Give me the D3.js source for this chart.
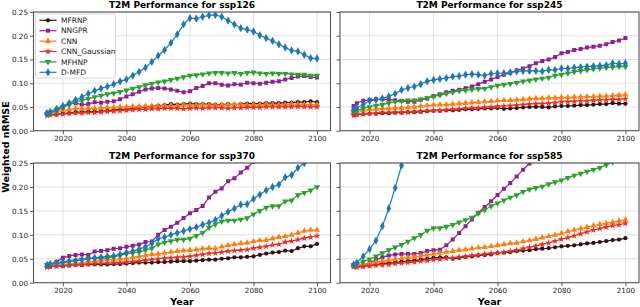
<!DOCTYPE html>
<html>
<head>
<meta charset="utf-8">
<script src="https://cdn.jsdelivr.net/npm/d3@7"></script>
<style>
  body { margin: 0; background: #fff; }
  svg { display: block; font-family: "DejaVu Sans", sans-serif; }
</style>
</head>
<body>
<svg id="chart" width="640" height="307"></svg>
<script>
// x values (one point every two years, plus the 2015 start)
const years = [2015, 2016, 2018, 2020, 2022, 2024, 2026, 2028, 2030, 2032, 2034,
  2036, 2038, 2040, 2042, 2044, 2046, 2048, 2050, 2052, 2054, 2056, 2058, 2060,
  2062, 2064, 2066, 2068, 2070, 2072, 2074, 2076, 2078, 2080, 2082, 2084, 2086,
  2088, 2090, 2092, 2094, 2096, 2098, 2100];

const models = ["MFRNP", "NNGPR", "CNN", "CNN_Gaussian", "MFHNP", "D-MFD"];
const colors = ["#2e1215", "#8e2190", "#ff7f0e", "#e8302a", "#2ca02c", "#1f77b4"];
const scenarios = ["ssp126", "ssp245", "ssp370", "ssp585"];
const xTicks = [2020, 2040, 2060, 2080, 2100];
const yTicks = [0, 0.05, 0.10, 0.15, 0.20, 0.25];

// ---- ssp126
const mfrnp126 = [.035,.034,.034,.036,.037,.039,.039,.040,.040,.041,.042,.044,.045,.046,.047,.049,.050,.051,.053,.054,.056,.055,
  .056,.057,.056,.056,.056,.055,.055,.056,.055,.056,.057,.057,.057,.058,.058,.058,.059,.059,.060,.060,.062,.060];
const nngpr126 = [.036,.037,.041,.050,.057,.058,.055,.056,.060,.059,.061,.062,.066,.072,.077,.082,.087,.089,.090,.089,.087,.084,
  .081,.083,.090,.094,.100,.100,.097,.095,.098,.097,.101,.100,.099,.101,.103,.104,.108,.111,.114,.115,.113,.112];
const cnn126 = [.037,.038,.040,.043,.045,.047,.046,.047,.047,.048,.049,.049,.050,.050,.051,.051,.052,.052,.052,.053,.053,.053,
  .054,.054,.054,.055,.054,.054,.054,.055,.055,.055,.054,.055,.055,.056,.055,.055,.055,.056,.056,.055,.055,.055];
const cnng126 = [.032,.033,.034,.035,.036,.037,.037,.038,.038,.039,.040,.041,.042,.043,.044,.045,.045,.046,.046,.047,.047,.047,
  .046,.047,.048,.047,.048,.048,.048,.047,.048,.048,.049,.049,.049,.050,.050,.050,.050,.050,.051,.050,.050,.050];
const mfhnp126 = [.035,.037,.043,.049,.055,.061,.064,.067,.071,.074,.077,.079,.082,.085,.089,.092,.096,.099,.102,.104,.107,.110,
  .113,.116,.117,.119,.121,.122,.122,.121,.122,.120,.122,.123,.121,.120,.121,.120,.120,.119,.118,.118,.116,.116];
const dmfd126 = [.037,.040,.046,.052,.058,.065,.071,.078,.084,.089,.093,.098,.104,.108,.116,.124,.133,.145,.158,.170,.185,.203,
  .224,.237,.236,.240,.243,.244,.240,.232,.224,.216,.213,.209,.201,.195,.189,.182,.175,.169,.167,.160,.153,.152];

// ---- ssp245
const mfrnp245 = [.034,.034,.035,.036,.036,.037,.037,.038,.038,.039,.039,.040,.041,.042,.042,.043,.043,.044,.045,.045,.046,.047,
  .047,.048,.046,.047,.048,.049,.050,.050,.050,.049,.051,.052,.052,.053,.054,.054,.055,.056,.056,.058,.057,.057];
const nngpr245 = [.052,.058,.063,.065,.066,.066,.066,.064,.063,.061,.061,.065,.068,.073,.077,.081,.084,.086,.090,.093,.098,.103,
  .108,.113,.118,.122,.127,.131,.136,.142,.147,.150,.155,.163,.166,.170,.172,.175,.177,.179,.182,.187,.190,.195];
const cnn245 = [.040,.041,.043,.045,.046,.047,.047,.048,.048,.049,.050,.052,.053,.054,.055,.055,.056,.057,.058,.059,.060,.061,
  .062,.063,.064,.064,.065,.066,.067,.068,.068,.069,.069,.070,.070,.071,.071,.072,.072,.073,.073,.074,.075,.076];
const cnng245 = [.032,.034,.035,.036,.037,.038,.038,.039,.039,.039,.040,.041,.042,.043,.043,.044,.045,.046,.047,.048,.048,.049,
  .050,.051,.052,.053,.054,.055,.056,.057,.057,.058,.059,.061,.061,.062,.063,.063,.064,.065,.065,.066,.066,.067];
const mfhnp245 = [.040,.042,.047,.050,.053,.055,.058,.061,.063,.064,.064,.066,.069,.072,.075,.078,.081,.084,.085,.087,.088,.089,
  .092,.095,.097,.099,.101,.104,.106,.108,.110,.112,.116,.118,.121,.124,.126,.128,.130,.132,.133,.134,.135,.135];
const dmfd245 = [.045,.048,.055,.063,.065,.068,.072,.078,.086,.090,.093,.098,.104,.107,.109,.111,.114,.115,.118,.119,.118,.116,
  .120,.121,.121,.123,.125,.126,.126,.126,.125,.128,.128,.131,.131,.133,.134,.135,.136,.137,.138,.142,.141,.142];

// ---- ssp370
const mfrnp370 = [.033,.034,.035,.035,.036,.037,.037,.038,.038,.038,.038,.039,.039,.040,.041,.042,.042,.042,.043,.043,.044,.045,
  .045,.045,.046,.047,.048,.048,.050,.051,.053,.053,.054,.055,.058,.061,.063,.064,.067,.066,.072,.076,.076,.081];
const nngpr370 = [.037,.038,.044,.052,.056,.058,.059,.058,.065,.066,.068,.071,.072,.075,.077,.080,.085,.086,.100,.110,.117,.125,
  .135,.145,.152,.160,.178,.190,.197,.212,.218,.230,.240,.252,.265,.278,.292,.305,.320,.335,.350,.365,.380,.395];
const cnn370 = [.036,.036,.037,.038,.040,.041,.042,.044,.045,.047,.048,.049,.050,.050,.053,.055,.057,.059,.060,.062,.064,.066,
  .067,.068,.069,.071,.072,.071,.075,.078,.080,.082,.083,.086,.088,.089,.092,.095,.097,.100,.104,.108,.110,.110];
const cnng370 = [.032,.033,.034,.035,.036,.037,.038,.039,.040,.040,.041,.042,.042,.043,.044,.045,.047,.048,.050,.051,.052,.053,
  .054,.055,.057,.059,.061,.062,.064,.066,.067,.068,.069,.072,.074,.076,.079,.080,.085,.087,.090,.093,.095,.098];
const mfhnp370 = [.037,.038,.040,.042,.044,.046,.048,.050,.050,.051,.052,.054,.057,.060,.062,.064,.068,.072,.080,.084,.087,.090,
  .090,.092,.098,.104,.115,.122,.128,.130,.130,.132,.135,.143,.150,.157,.160,.160,.170,.172,.183,.188,.193,.200];
const dmfd370 = [.037,.039,.041,.043,.045,.046,.048,.050,.052,.053,.055,.056,.059,.063,.066,.070,.075,.082,.092,.095,.100,.104,
  .108,.112,.116,.121,.125,.131,.140,.148,.155,.163,.164,.175,.184,.193,.200,.205,.220,.225,.240,.250,.258,.265];

// ---- ssp585
const mfrnp585 = [.037,.034,.034,.036,.038,.040,.041,.042,.044,.045,.046,.048,.050,.052,.053,.053,.050,.052,.054,.055,.057,.058,
  .059,.062,.063,.064,.066,.067,.068,.070,.071,.072,.074,.076,.077,.078,.080,.082,.083,.085,.087,.089,.090,.093];
const nngpr585 = [.037,.036,.036,.042,.048,.053,.057,.059,.060,.060,.060,.062,.066,.068,.069,.078,.090,.104,.118,.132,.146,.158,
  .170,.183,.196,.208,.222,.236,.249,.262,.276,.290,.304,.318,.332,.346,.360,.374,.388,.402,.416,.430,.444,.458];
const cnn585 = [.035,.036,.039,.041,.043,.045,.047,.049,.051,.053,.054,.056,.058,.060,.062,.064,.066,.068,.069,.071,.073,.074,
  .076,.078,.080,.082,.083,.086,.088,.091,.094,.097,.100,.103,.107,.110,.113,.116,.119,.122,.124,.126,.129,.131];
const cnng585 = [.033,.032,.034,.035,.036,.037,.038,.040,.041,.042,.043,.045,.046,.048,.049,.051,.052,.054,.055,.057,.058,.060,
  .061,.062,.064,.066,.068,.071,.074,.077,.080,.083,.087,.091,.094,.098,.102,.106,.110,.113,.116,.119,.121,.124];
const mfhnp585 = [.037,.039,.044,.049,.055,.062,.068,.074,.079,.086,.093,.100,.109,.114,.114,.117,.121,.126,.131,.136,.145,.152,
  .160,.166,.172,.178,.183,.190,.195,.198,.201,.206,.210,.214,.219,.224,.228,.232,.236,.240,.246,.252,.258,.263];
const dmfd585 = [.038,.042,.055,.070,.088,.118,.155,.198,.245,.300,.360,.420,.480,.540,.600,.660,.720,.780,.840,.900,.960,1.02,
  1.08,1.14,1.20,1.26,1.32,1.38,1.44,1.50,1.56,1.62,1.68,1.74,1.80,1.86,1.92,1.98,2.04,2.10,2.16,2.22,2.28,2.34];

const values = {
  ssp126: [mfrnp126, nngpr126, cnn126, cnng126, mfhnp126, dmfd126],
  ssp245: [mfrnp245, nngpr245, cnn245, cnng245, mfhnp245, dmfd245],
  ssp370: [mfrnp370, nngpr370, cnn370, cnng370, mfhnp370, dmfd370],
  ssp585: [mfrnp585, nngpr585, cnn585, cnng585, mfhnp585, dmfd585]
};

const symbols = [
  { type: d3.symbolCircle, size: 14, rot: 0 },
  { type: d3.symbolSquare, size: 16, rot: 0 },
  { type: d3.symbolTriangle, size: 17, rot: 0 },
  { type: d3.symbolStar, size: 15, rot: 0 },
  { type: d3.symbolTriangle, size: 17, rot: 180 },
  { type: d3.symbolDiamond, size: 20, rot: 0 }
];

const svg = d3.select("#chart");

const cols = [{ x0: 33.5, x1: 330.5 }, { x0: 340, x1: 639 }];
const rows = [{ y0: 12, y1: 130.7 }, { y0: 163, y1: 282.7 }];

scenarios.forEach((sc, i) => {
  const c = cols[i % 2], r = rows[Math.floor(i / 2)];
  const x = d3.scaleLinear().domain([2010.75, 2104.25]).range([c.x0, c.x1]);
  const y = d3.scaleLinear().domain([0, 0.25]).range([r.y1, r.y0]);
  const g = svg.append("g");

  // grid
  g.selectAll(".gx").data(xTicks).enter().append("line")
    .attr("x1", d => x(d)).attr("x2", d => x(d))
    .attr("y1", r.y0).attr("y2", r.y1)
    .attr("stroke", "#d9d9d9").attr("stroke-width", 0.8);
  g.selectAll(".gy").data(yTicks).enter().append("line")
    .attr("x1", c.x0).attr("x2", c.x1)
    .attr("y1", d => y(d)).attr("y2", d => y(d))
    .attr("stroke", "#d9d9d9").attr("stroke-width", 0.8);

  // axes
  const xAxis = d3.axisBottom(x).tickValues(xTicks).tickFormat(d3.format("d"))
    .tickSizeInner(3.5).tickSizeOuter(0).tickPadding(2);
  const gx = g.append("g").attr("transform", `translate(0,${r.y1})`).call(xAxis);
  const yAxis = d3.axisLeft(y).tickValues(yTicks).tickFormat(i % 2 === 0 ? d3.format(".2f") : "")
    .tickSizeInner(3.5).tickSizeOuter(0).tickPadding(2);
  const gy = g.append("g").attr("transform", `translate(${c.x0},0)`).call(yAxis);
  [gx, gy].forEach(a => {
    a.select(".domain").remove();
    a.selectAll("line").attr("stroke", "#444").attr("stroke-width", 0.9);
    a.selectAll("text").attr("font-size", 7.2).attr("fill", "#222")
      .attr("font-family", "DejaVu Sans");
  });

  // series
  const clipId = "clip" + i;
  svg.append("clipPath").attr("id", clipId).append("rect")
    .attr("x", c.x0).attr("y", r.y0).attr("width", c.x1 - c.x0).attr("height", r.y1 - r.y0);
  const plot = g.append("g").attr("clip-path", `url(#${clipId})`);
  const line = d3.line().x((d, k) => x(years[k])).y(d => y(d));

  values[sc].forEach((vals, m) => {
    plot.append("path").datum(vals)
      .attr("d", line).attr("fill", "none")
      .attr("stroke", colors[m]).attr("stroke-width", 1.2);
    const sym = d3.symbol().type(symbols[m].type).size(symbols[m].size);
    plot.selectAll(".m" + m).data(vals).enter().append("path")
      .attr("d", sym)
      .attr("transform", (d, k) => `translate(${x(years[k])},${y(d)}) rotate(${symbols[m].rot})`)
      .attr("fill", colors[m]);
  });

  // spines
  g.append("rect").attr("x", c.x0).attr("y", r.y0)
    .attr("width", c.x1 - c.x0).attr("height", r.y1 - r.y0)
    .attr("fill", "none").attr("stroke", "#555").attr("stroke-width", 1.1);

  // title
  g.append("text").attr("x", (c.x0 + c.x1) / 2).attr("y", r.y0 - 4)
    .attr("text-anchor", "middle").attr("font-size", 9).attr("font-weight", "bold")
    .text("T2M Performance for " + sc);

  if (i >= 2) {
    g.append("text").attr("x", (c.x0 + c.x1) / 2).attr("y", 305)
      .attr("text-anchor", "middle").attr("font-size", 9.5).attr("font-weight", "bold")
      .text("Year");
  }

  // legend in the first panel
  if (i === 0) {
    const lg = g.append("g");
    lg.append("rect").attr("x", 35.5).attr("y", 14).attr("width", 80).attr("height", 64)
      .attr("rx", 2).attr("fill", "#fff").attr("fill-opacity", 0.85)
      .attr("stroke", "#cccccc").attr("stroke-width", 0.8);
    models.forEach((name, m) => {
      const yy = 20.3 + m * 10.4;
      lg.append("line").attr("x1", 39.5).attr("x2", 56.5).attr("y1", yy).attr("y2", yy)
        .attr("stroke", colors[m]).attr("stroke-width", 1.2);
      lg.append("path").attr("d", d3.symbol().type(symbols[m].type).size(symbols[m].size))
        .attr("transform", `translate(48,${yy}) rotate(${symbols[m].rot})`)
        .attr("fill", colors[m]);
      lg.append("text").attr("x", 61).attr("y", yy + 2.7)
        .attr("font-size", 7.5).attr("fill", "#222").text(name);
    });
  }
});

svg.append("text")
  .attr("transform", "translate(9,147) rotate(-90)")
  .attr("text-anchor", "middle").attr("font-size", 9.5).attr("font-weight", "bold")
  .text("Weighted nRMSE");
</script>
</body>
</html>
